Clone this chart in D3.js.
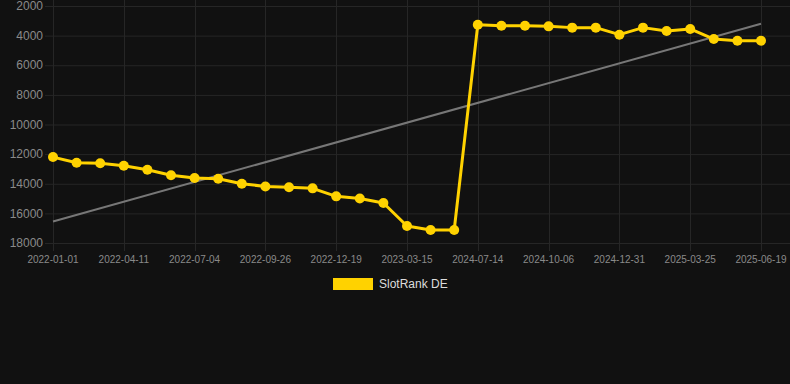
<!DOCTYPE html>
<html>
<head>
<meta charset="utf-8">
<script src="https://cdn.jsdelivr.net/npm/d3@7"></script>
<style>
  html, body { margin: 0; padding: 0; background: #111111; }
  svg { display: block; font-family: "Liberation Sans", Arial, Helvetica, sans-serif; }
</style>
</head>
<body>
<svg id="chart" width="790" height="384"></svg>
<script>
// ---- data ----
const tickLabels = ["2022-01-01", "2022-04-11", "2022-07-04", "2022-09-26", "2022-12-19",
  "2023-03-15", "2024-07-14", "2024-10-06", "2024-12-31", "2025-03-25", "2025-06-19"];
const rankValues = [12200, 12580, 12620, 12780, 13050, 13430, 13610, 13660, 14000, 14180,
  14240, 14310, 14850, 14990, 15300, 16850, 17120, 17120, 3260, 3330,
  3330, 3375, 3460, 3460, 3935, 3460, 3690, 3550, 4230, 4340, 4340];
const trendValues = [16550, 3200]; // at first and last point
const yTicks = [2000, 4000, 6000, 8000, 10000, 12000, 14000, 16000, 18000];
const seriesName = "SlotRank DE";

// ---- layout ----
const W = 790, H = 384;
const x0 = 53, x1 = 761, yTop = 6, yBot = 243;
const yellow = "#ffd200";
const grid = "#262626";

const svg = d3.select("#chart");
svg.append("rect").attr("width", W).attr("height", H).attr("fill", "#111111");

const idx = d3.range(rankValues.length);
const x = d3.scalePoint().domain(idx).range([x0, x1]);
const y = d3.scaleLinear().domain([2000, 18000]).range([yTop, yBot]);

// horizontal grid
const g = svg.append("g");
g.selectAll("line.h").data(yTicks).join("line")
  .attr("x1", 45).attr("x2", W)
  .attr("y1", d => y(d) + 0.5).attr("y2", d => y(d) + 0.5)
  .attr("stroke", grid).attr("stroke-width", 1);

// vertical grid at labelled points (every 3rd)
const labelIdx = tickLabels.map((_, i) => i * 3);
g.selectAll("line.v").data(labelIdx).join("line")
  .attr("x1", d => Math.round(x(d)) + 0.5).attr("x2", d => Math.round(x(d)) + 0.5)
  .attr("y1", 0).attr("y2", 251)
  .attr("stroke", grid).attr("stroke-width", 1);

// y axis labels
svg.append("g").selectAll("text").data(yTicks).join("text")
  .attr("x", 43).attr("y", d => y(d)).attr("dy", "0.35em")
  .attr("text-anchor", "end").attr("fill", "#8a8a8a").attr("font-size", 12)
  .text(d => d);

// x axis labels
svg.append("g").selectAll("text").data(labelIdx).join("text")
  .attr("x", d => x(d)).attr("y", 263)
  .attr("text-anchor", "middle").attr("fill", "#8a8a8a").attr("font-size", 10)
  .text((d, i) => tickLabels[i]);

// trend line
svg.append("line")
  .attr("x1", x(0)).attr("y1", y(trendValues[0]))
  .attr("x2", x(idx.length - 1)).attr("y2", y(trendValues[1]))
  .attr("stroke", "#777777").attr("stroke-width", 2);

// series line
const line = d3.line().x((d, i) => x(i)).y(d => y(d));
svg.append("path").datum(rankValues)
  .attr("d", line).attr("fill", "none")
  .attr("stroke", yellow).attr("stroke-width", 3).attr("stroke-linejoin", "round");

svg.append("g").selectAll("circle").data(rankValues).join("circle")
  .attr("cx", (d, i) => x(i)).attr("cy", d => y(d)).attr("r", 5)
  .attr("fill", yellow);

// legend
const lg = svg.append("g");
lg.append("rect").attr("x", 333).attr("y", 278).attr("width", 40).attr("height", 12)
  .attr("fill", yellow);
lg.append("text").attr("x", 379).attr("y", 284).attr("dy", "0.35em")
  .attr("fill", "#dddddd").attr("font-size", 12).text(seriesName);
</script>
</body>
</html>
